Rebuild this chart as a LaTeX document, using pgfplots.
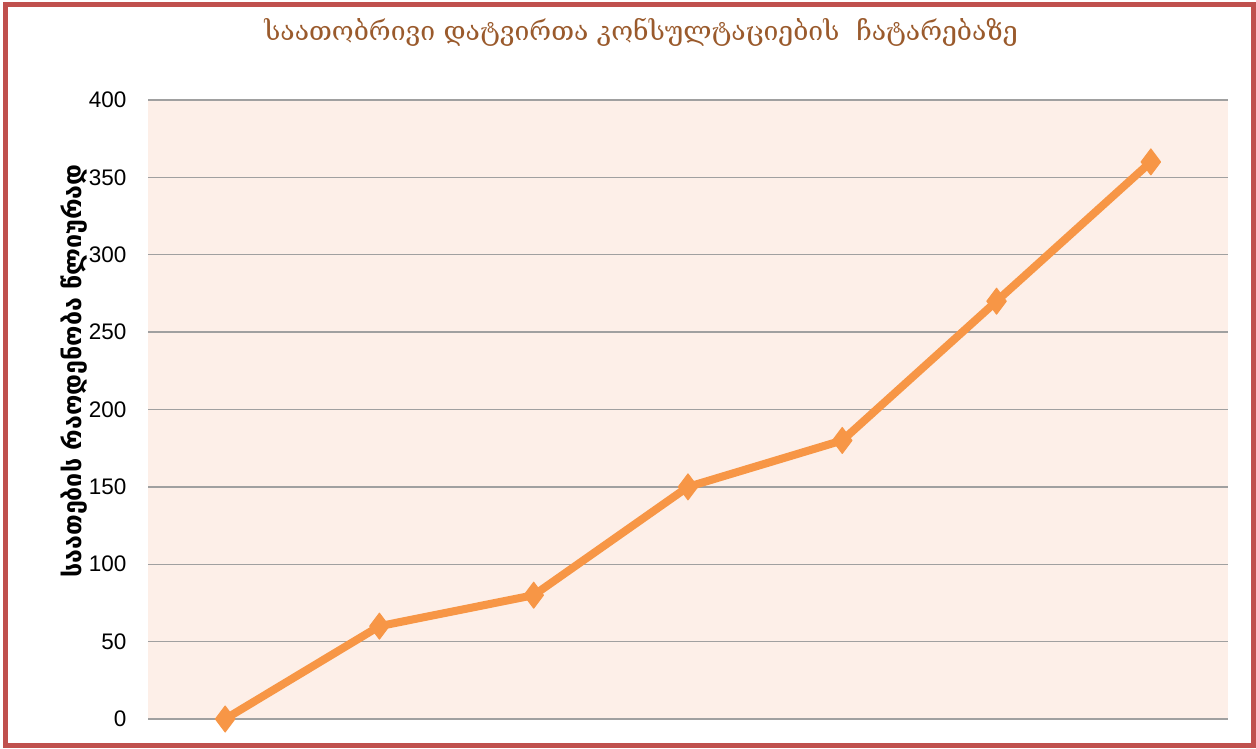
\documentclass[border=0pt]{standalone}
\usepackage{pgfplots}
\pgfplotsset{compat=1.18}
\usepackage{fontspec}
\setmainfont{Liberation Sans}
\newfontfamily\geo{DejaVu Serif}
\newfontfamily\geosans{DejaVu Sans}
\definecolor{frameRed}{HTML}{C0504D}
\definecolor{plotBg}{HTML}{FDEFE8}
\definecolor{lineOr}{HTML}{F79646}
\definecolor{titleBr}{HTML}{9A5A2C}
\definecolor{gridG}{HTML}{A0A0A0}
\begin{document}
\begin{tikzpicture}[x=1pt,y=1pt]
\path[fill=white] (0,0) rectangle (1256,748);
\begin{axis}[
  at={(148pt,29pt)}, anchor=south west,
  width=1080pt, height=619pt, scale only axis,
  xmin=0, xmax=7, ymin=0, ymax=400,
  ytick={0,50,...,400},
  xtick=\empty,
  ymajorgrids,
  grid style={gridG, line width=1.4pt},
  axis background/.style={fill=plotBg},
  axis line style={draw=none},
  axis x line*=bottom, axis y line*=left,
  x axis line style={gridG, line width=2.2pt},
  y axis line style={gridG, line width=1.4pt},
  y tick label style={font=\fontsize{22.5}{26}\selectfont, color=black},
  major tick length=0pt,
  /pgf/number format/assume math mode=true,
  yticklabel style={xshift=-18pt},
  clip=false,
]
\addplot[lineOr, line width=8pt, mark=diamond*, mark size=13pt, mark options={fill=lineOr, draw=lineOr, line width=1pt}, line join=round]
coordinates {(0.5,0) (1.5,60) (2.5,80) (3.5,150) (4.5,180) (5.5,270) (6.5,360)};
\end{axis}
\node[font=\geo\fontsize{26.5}{30}\selectfont, text=titleBr] at (641,716) {საათობრივი დატვირთა კონსულტაციების~~ჩატარებაზე};
\node[font=\geosans\bfseries\fontsize{25}{28}\selectfont, rotate=90] at (74,377) {საათების რაოდენობა წლიურად};
\draw[frameRed, line width=5pt] (5,2.5) rectangle (1253.5,743);
\end{tikzpicture}
\end{document}
